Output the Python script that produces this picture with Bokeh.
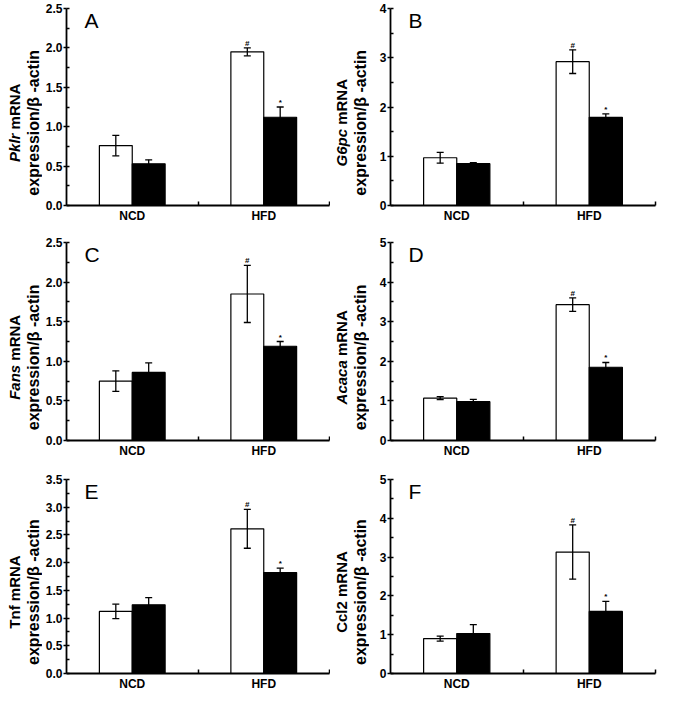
import math
from bokeh.plotting import figure
from bokeh.layouts import column, row
from bokeh.models import (Range1d, SingleIntervalTicker, FixedTicker, NumeralTickFormatter,
                          ColumnDataSource, Whisker, TeeHead, Label)
from bokeh.core.properties import value
from bokeh.embed import file_html
from bokeh.resources import INLINE

# ---------------- data ----------------
groups = ["NCD", "HFD"]
panel_letters = ["A", "B", "C", "D", "E", "F"]
genes = ["Pklr", "G6pc", "Fans", "Acaca", "Tnf", "Ccl2"]
gene_italic = [True, True, True, True, False, False]
y_max = [2.5, 4, 2.5, 5, 3.5, 5]
y_step = [0.5, 1, 0.5, 1, 0.5, 1]
y_fmt = ["0.0", "0", "0.0", "0", "0.0", "0"]

# white (open) bars: NCD, HFD
white_mean = [[0.76, 1.95], [0.97, 2.92], [0.75, 1.85], [1.07, 3.43], [1.12, 2.61], [0.90, 3.13]]
white_err = [[0.13, 0.05], [0.11, 0.24], [0.13, 0.36], [0.04, 0.17], [0.13, 0.35], [0.065, 0.70]]
# black (filled) bars: NCD, HFD
black_mean = [[0.53, 1.12], [0.85, 1.79], [0.86, 1.19], [0.98, 1.85], [1.24, 1.82], [1.03, 1.60]]
black_err = [[0.05, 0.13], [0.02, 0.07], [0.12, 0.06], [0.06, 0.12], [0.13, 0.08], [0.23, 0.26]]
white_marks = ["", "#"]
black_marks = ["", "*"]

FONT = "Liberation Sans"
L1_PX = 15
L2_PX = 16
# Arial-bold advance widths (per 1000 em) for splitting the mixed-style label
ADV = {"P": 667, "k": 556, "l": 278, "r": 389, "G": 778, "6": 556, "p": 611, "c": 556,
       "F": 611, "a": 556, "n": 611, "s": 556, "A": 722, " ": 278, "m": 889, "R": 722,
       "N": 722, "T": 611, "f": 333, "C": 722, "2": 556}


def text_w(s, px):
    return sum(ADV.get(ch, 600) for ch in s) / 1000.0 * px


PLOT_BL = 21  # plot left border (room for tick labels)


def make_label_fig(i, width, height, bt, bb):
    fh = height - bt - bb
    p = figure(width=width, height=height, x_range=Range1d(0, width), y_range=Range1d(0, fh),
               output_backend="svg", toolbar_location=None, tools="",
               x_axis_type=None, y_axis_type=None,
               min_border_left=0, min_border_right=0, min_border_top=bt, min_border_bottom=bb)
    p.xgrid.visible = False
    p.ygrid.visible = False
    p.outline_line_color = None
    yc = 0.42 * fh
    base2 = width + PLOT_BL - 30
    base1 = width + PLOT_BL - 49
    common = dict(angle=math.pi / 2, text_baseline="alphabetic", text_font=value(FONT),
                  text_color="black")
    p.text(x=[base2], y=[yc], text=["expression/\u03b2 -actin"], text_align="center",
           text_font_style="bold", text_font_size=f"{L2_PX}px", **common)
    g = genes[i]
    rest = "mRNA"
    sp = text_w(" ", L1_PX)
    if gene_italic[i]:
        total = text_w(g, L1_PX) + sp + text_w(rest, L1_PX)
        j1 = yc - total / 2 + text_w(g, L1_PX)
        p.text(x=[base1], y=[j1], text=[g], text_align="right",
               text_font_style="bold italic", text_font_size=f"{L1_PX}px", **common)
        p.text(x=[base1], y=[j1 + sp], text=[rest], text_align="left",
               text_font_style="bold", text_font_size=f"{L1_PX}px", **common)
    else:
        p.text(x=[base1], y=[yc], text=[g + " " + rest], text_align="center",
               text_font_style="bold", text_font_size=f"{L1_PX}px", **common)
    return p


def make_panel(i, width, height, br, bt, bb):
    p = figure(width=width, height=height, x_range=Range1d(0, 2), y_range=Range1d(0, y_max[i]),
               output_backend="svg", toolbar_location=None, tools="",
               min_border_left=PLOT_BL, min_border_right=br, min_border_top=bt, min_border_bottom=bb)
    p.xgrid.visible = False
    p.ygrid.visible = False
    p.outline_line_color = None

    centers = [0.5, 1.5]
    xw = [c - 0.125 for c in centers]
    xb = [c + 0.125 for c in centers]

    p.vbar(x=xw, top=white_mean[i], width=0.25, fill_color="white",
           line_color="black", line_width=1.2)
    p.vbar(x=xb, top=black_mean[i], width=0.25, fill_color="black",
           line_color="black", line_width=1.2)

    for xs, m, e in ((xw, white_mean[i], white_err[i]), (xb, black_mean[i], black_err[i])):
        src = ColumnDataSource(dict(x=xs, upper=[a + b for a, b in zip(m, e)],
                                    lower=[a - b for a, b in zip(m, e)]))
        w = Whisker(base="x", upper="upper", lower="lower", source=src, level="overlay",
                    line_color="black", line_width=1.3,
                    upper_head=TeeHead(size=7, line_color="black", line_width=1.3),
                    lower_head=TeeHead(size=7, line_color="black", line_width=1.3))
        p.add_layout(w)

    # significance marks
    mx, my, mt = [], [], []
    for j in range(2):
        if white_marks[j]:
            mx.append(xw[j]); my.append(white_mean[i][j] + white_err[i][j]); mt.append(white_marks[j])
        if black_marks[j]:
            mx.append(xb[j]); my.append(black_mean[i][j] + black_err[i][j]); mt.append(black_marks[j])
    p.text(x=mx, y=my, text=mt, text_align="center", text_baseline="bottom",
           text_font=value(FONT), text_font_size="8px", text_font_style="bold", text_color="black")

    # axes
    xa = p.xaxis[0]
    xa.ticker = FixedTicker(ticks=[0.5, 1.5], minor_ticks=[1.0, 2.0])
    xa.major_label_overrides = {0.5: groups[0], 1.5: groups[1]}
    xa.major_tick_in = 0
    xa.major_tick_out = 0
    xa.minor_tick_in = 4
    xa.minor_tick_out = 0
    xa.minor_tick_line_width = 1.5
    xa.minor_tick_line_color = "black"
    xa.axis_line_width = 1.8
    xa.axis_line_color = "black"
    xa.major_label_text_font = FONT
    xa.major_label_text_font_style = "bold"
    xa.major_label_text_font_size = "12px"
    xa.major_label_text_color = "black"
    xa.major_label_standoff = 3

    ya = p.yaxis[0]
    ya.ticker = SingleIntervalTicker(interval=y_step[i], num_minor_ticks=2)
    ya.formatter = NumeralTickFormatter(format=y_fmt[i])
    ya.major_tick_in = 0
    ya.major_tick_out = 3
    ya.minor_tick_in = 3
    ya.minor_tick_out = 0
    ya.major_tick_line_width = 1.5
    ya.minor_tick_line_width = 1.5
    ya.major_tick_line_color = "black"
    ya.minor_tick_line_color = "black"
    ya.axis_line_width = 1.8
    ya.axis_line_color = "black"
    ya.major_label_text_font = FONT
    ya.major_label_text_font_style = "bold"
    ya.major_label_text_font_size = "12px"
    ya.major_label_text_color = "black"
    ya.major_label_standoff = 1

    # panel letter
    p.add_layout(Label(x=0, y=y_max[i], x_offset=18, y_offset=-12, text=panel_letters[i],
                       text_align="left", text_baseline="alphabetic", text_font=FONT,
                       text_font_size="21px", text_color="black"))
    return p


rows_h = [(227, 8, 22), (235, 15, 22), (231, 17, 20)]
rows = []
for r, (h, bt, bb) in enumerate(rows_h):
    labL = make_label_fig(2 * r, 42, h, bt, bb)
    plotL = make_panel(2 * r, PLOT_BL + 266 + 1, h, 1, bt, bb)
    labR = make_label_fig(2 * r + 1, 39, h, bt, bb)
    plotR = make_panel(2 * r + 1, PLOT_BL + 265 + 4, h, 4, bt, bb)
    rows.append(row(labL, plotL, labR, plotR))

layout = column(*rows)
open("out.html", "w").write(file_html(layout, INLINE))
